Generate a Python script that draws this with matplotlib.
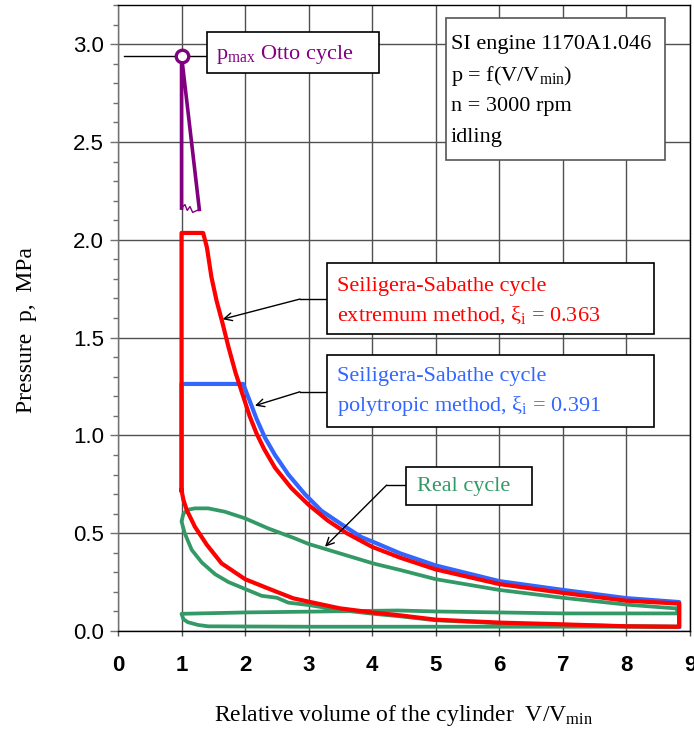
import numpy as np
import matplotlib
matplotlib.use('Agg')
import matplotlib.pyplot as plt
from matplotlib.patches import Rectangle
from matplotlib.ticker import MultipleLocator

plt.rcParams['font.family'] = 'Liberation Serif'
plt.rcParams['mathtext.fontset'] = 'custom'
plt.rcParams['mathtext.rm'] = 'Liberation Serif'
plt.rcParams['mathtext.it'] = 'Liberation Serif:italic'

# Otto cycle peak (purple)
otto_x = [1.28, 1.0, 1.0]
otto_p = [2.155, 2.94, 2.162]
zig_x = [1.0, 1.054, 1.09, 1.133, 1.175, 1.28]
zig_p = [2.162, 2.18, 2.15, 2.17, 2.14, 2.155]
pmax_x, pmax_p = 1.0, 2.94

# Seiliger-Sabathe cycle, polytropic method (blue)
blue_x = [1.0, 1.0, 1.97, 2.08, 2.18, 2.31, 2.47, 2.68, 2.94, 3.20, 3.52, 3.83,
          4.02, 4.44, 5.00, 6.00, 7.00, 8.00, 8.83, 8.83]
blue_p = [0.72, 1.263, 1.263, 1.17, 1.085, 0.99, 0.90, 0.80, 0.70, 0.615, 0.545, 0.48,
          0.455, 0.397, 0.335, 0.255, 0.21, 0.168, 0.148, 0.022]

# Seiliger-Sabathe cycle, extremum method (red)
red_x = [1.0, 1.0, 1.34, 1.40, 1.47, 1.55, 1.64, 1.74, 1.85, 1.95, 2.07, 2.18, 2.30,
         2.47, 2.73, 3.00, 3.30, 3.60, 4.00, 4.44, 5.00, 6.00, 7.00, 8.00, 8.83,
         8.83, 8.00, 7.00, 6.00, 5.00, 4.44, 4.02, 3.49, 3.00, 2.76, 2.50, 2.36,
         2.00, 1.63, 1.40, 1.21, 1.08, 1.03, 1.00]
red_p = [0.72, 2.035, 2.035, 1.96, 1.81, 1.69, 1.58, 1.45, 1.32, 1.22, 1.10, 1.01, 0.93,
         0.835, 0.73, 0.645, 0.565, 0.50, 0.43, 0.375, 0.315, 0.24, 0.195, 0.155, 0.14,
         0.022, 0.024, 0.034, 0.043, 0.058, 0.08, 0.094, 0.116, 0.15, 0.167, 0.20, 0.218,
         0.265, 0.346, 0.44, 0.533, 0.62, 0.67, 0.72]

# Real cycle (green)
green_x = [8.80, 8.80, 7.00, 5.00, 4.40, 3.00, 2.00, 1.00, 1.03, 1.10, 1.26, 1.42,
           3.00, 6.00, 8.80, 8.00, 7.00, 6.00, 5.00, 4.44, 4.02, 3.49, 3.00, 2.68,
           2.50, 2.26, 2.00, 1.74, 1.53, 1.32, 1.16, 1.05, 1.00, 1.03, 1.10, 1.21,
           1.42, 1.68, 2.00, 2.36, 2.78, 3.00, 3.49, 4.02, 4.44, 5.00, 6.00, 7.00,
           8.00, 8.80]
green_p = [0.115, 0.09, 0.09, 0.10, 0.105, 0.099, 0.095, 0.088, 0.06, 0.045, 0.031, 0.024,
           0.022, 0.022, 0.022, 0.025, 0.032, 0.04, 0.055, 0.075, 0.088, 0.107, 0.133, 0.145,
           0.17, 0.18, 0.215, 0.25, 0.29, 0.35, 0.415, 0.50, 0.56, 0.60, 0.62, 0.627,
           0.627, 0.61, 0.576, 0.525, 0.474, 0.445, 0.397, 0.345, 0.312, 0.265, 0.21, 0.17,
           0.135, 0.115]

x_ticks = list(range(10))
y_ticks = np.arange(0, 3.01, 0.5)

c_red = '#ff0000'
c_blue = '#3366ff'
c_green = '#339966'
c_purple = '#800080'

fig = plt.figure(figsize=(6.94, 7.29), dpi=100)
ax = fig.add_axes([0.170, 0.1344, 0.8242, 0.8587])

ax.plot(blue_x, blue_p, color=c_blue, lw=3.0, zorder=3, solid_joinstyle='round')
ax.plot(green_x, green_p, color=c_green, lw=2.7, zorder=3, solid_joinstyle='round')
ax.plot(red_x, red_p, color=c_red, lw=3.0, zorder=4, solid_joinstyle='round')

# pmax leader
ax.plot([0.09, 1.40], [pmax_p, pmax_p], color='black', lw=1.0, zorder=3)
ax.plot(otto_x, otto_p, color=c_purple, lw=2.6, zorder=5)
ax.plot(zig_x, zig_p, color=c_purple, lw=1.0, zorder=5)
ax.plot([pmax_x], [pmax_p], 'o', ms=9, mfc='white', mec=c_purple, mew=2.4, zorder=6)

ax.set_xlim(0, 9)
ax.set_ylim(0, 3.2)
ax.set_xticks(x_ticks)
ax.set_yticks(y_ticks)
ax.yaxis.set_minor_locator(MultipleLocator(0.1))
ax.set_yticklabels(['%.1f' % v for v in y_ticks])
ax.grid(which='major', color='#505050', lw=1.0)
ax.set_axisbelow(True)

ax.tick_params(axis='y', which='major', direction='out', length=6, width=1,
               color='#707070', labelsize=16, pad=4)
ax.tick_params(axis='y', which='minor', direction='out', length=3.5, width=1,
               color='#707070')
ax.tick_params(axis='x', direction='out', length=3.5, width=1, color='#505050',
               labelsize=16, pad=14)
for lbl in ax.get_yticklabels():
    lbl.set_fontfamily('Liberation Sans')
for lbl in ax.get_xticklabels():
    lbl.set_fontfamily('Liberation Sans')
    lbl.set_fontweight('bold')

ax.spines['left'].set_color('#707070')
for s in ['top', 'right', 'bottom']:
    ax.spines[s].set_color('black')
for s in ax.spines.values():
    s.set_linewidth(1.0)

ax.set_xlabel(r'Relative volume of the cylinder  V/V$_{\mathrm{min}}$', fontsize=17)
ax.xaxis.set_label_coords(0.5, -0.115)
ax.set_ylabel('Pressure  p,  MPa', fontsize=17)
ax.yaxis.set_label_coords(-0.142, 0.481)


def box(x0, y0, x1, y1, ec='black'):
    ax.add_patch(Rectangle((x0, y0), x1 - x0, y1 - y0, facecolor='white',
                           edgecolor=ec, lw=1.2, zorder=7))


def leader(x_box, y_box, x_knee, tip):
    ax.plot([x_box, x_knee], [y_box, y_box], color='black', lw=1.0, zorder=6)
    ax.annotate('', xy=tip, xytext=(x_knee, y_box),
                arrowprops=dict(arrowstyle='->', color='black', lw=1.0,
                                mutation_scale=14, shrinkA=0, shrinkB=0),
                zorder=6)


# p_max Otto cycle
box(1.40, 2.850, 4.10, 3.060)
ax.text(1.55, 2.945, r'p$_{\mathrm{max}}$ Otto cycle', color=c_purple, fontsize=16,
        va='center', ha='left', zorder=8)

# engine info
box(5.16, 2.408, 8.606, 3.134, ec='#555555')
info = ['SI engine 1170A1.046', r'p = f(V/V$_{\mathrm{min}}$)', 'n = 3000 rpm', 'idling']
for yy, s in zip([3.000, 2.835, 2.680, 2.525], info):
    ax.text(5.235, yy, s, fontsize=16, va='center', ha='left', zorder=8)

# red label
leader(3.283, 1.697, 2.863, (1.647, 1.594))
box(3.283, 1.518, 8.433, 1.880)
ax.text(3.44, 1.760, 'Seiligera-Sabathe cycle', color=c_red, fontsize=16,
        va='center', ha='left', zorder=8)
ax.text(3.44, 1.616, r'extremum method, ξ$_{\mathrm{i}}$ = 0.363', color=c_red, fontsize=16,
        va='center', ha='left', zorder=8)

# blue label
leader(3.283, 1.223, 2.863, (2.155, 1.152))
box(3.283, 1.041, 8.433, 1.411)
ax.text(3.44, 1.300, 'Seiligera-Sabathe cycle', color=c_blue, fontsize=16,
        va='center', ha='left', zorder=8)
ax.text(3.44, 1.150, r'polytropic method, ξ$_{\mathrm{i}}$ = 0.391', color=c_blue, fontsize=16,
        va='center', ha='left', zorder=8)

# green label
leader(4.531, 0.746, 4.227, (3.257, 0.431))
box(4.531, 0.644, 6.509, 0.838)
ax.text(4.70, 0.741, 'Real cycle', color=c_green, fontsize=16,
        va='center', ha='left', zorder=8)

fig.savefig('out.png', dpi=100)
